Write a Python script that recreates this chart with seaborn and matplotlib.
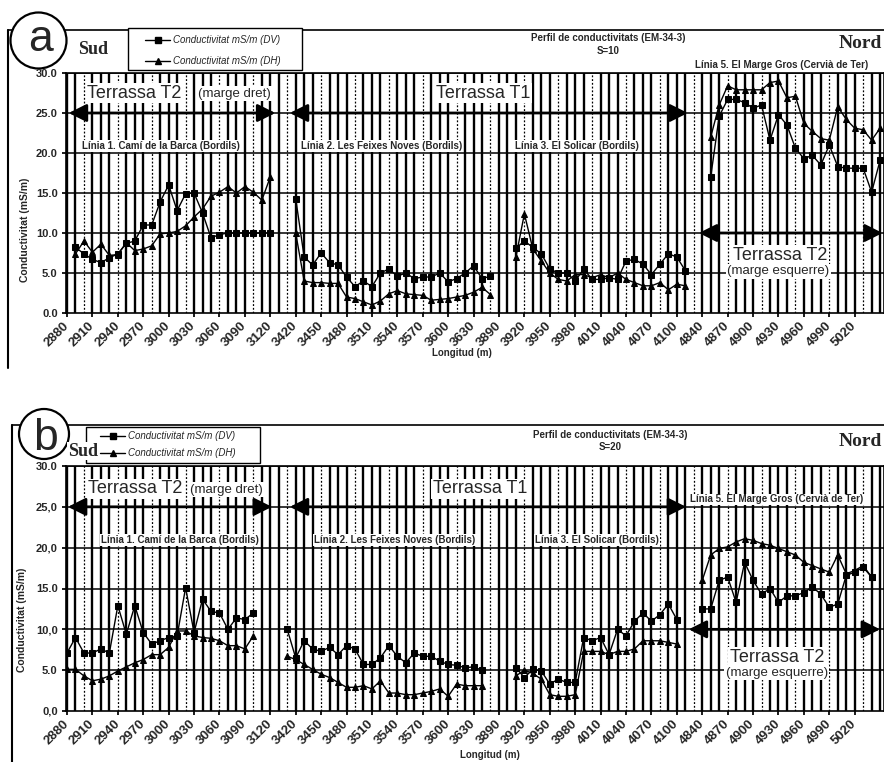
import matplotlib
matplotlib.use("Agg")
import matplotlib.pyplot as plt
import numpy as np
import pandas as pd
import seaborn as sns
from matplotlib.lines import Line2D
from matplotlib.patches import Circle, Rectangle

sns.set_theme(style="white")
plt.rcParams["font.family"] = ["Liberation Sans", "DejaVu Sans"]

# ---------------- data ----------------
x_labels = ["2880", "2910", "2940", "2970", "3000", "3030", "3060", "3090", "3120",
            "3420", "3450", "3480", "3510", "3540", "3570", "3600", "3630", "3890",
            "3920", "3950", "3980", "4010", "4040", "4070", "4100", "4840", "4870",
            "4900", "4930", "4960", "4990", "5020"]

# panel a (S=10) -- station index of first point, DV values, DH values
a_l1_start = 1
a_l1_dv = [8.2, 7.4, 6.7, 6.3, 6.9, 7.4, 8.7, 9.0, 11.0, 11.0, 13.9, 16.0, 12.8, 14.9, 15.0,
           12.5, 9.4, 9.8, 10.0, 10.0, 10.0, 10.0, 10.0, 10.0]
a_l1_dh = [7.4, 9.0, 7.6, 8.6, 7.2, 7.3, 8.8, 7.8, 8.0, 8.4, 9.9, 10.0, 10.2, 10.9, 12.0,
           13.0, 14.6, 15.1, 15.8, 15.0, 15.8, 15.1, 14.1, 17.0]
a_l2_start = 27
a_l2_dv = [14.3, 7.0, 6.0, 7.5, 6.3, 6.0, 4.5, 3.3, 4.0, 3.3, 5.0, 5.5, 4.6, 5.0, 4.3, 4.5,
           4.5, 5.0, 3.9, 4.3, 5.0, 5.9, 4.3, 4.6]
a_l2_dh = [10.0, 4.0, 3.8, 3.8, 3.7, 3.7, 2.0, 1.8, 1.4, 1.0, 1.5, 2.4, 2.8, 2.4, 2.3, 2.2,
           1.6, 1.7, 1.8, 2.0, 2.2, 2.6, 3.2, 2.3]
a_l3_start = 53
a_l3_dv = [8.1, 9.0, 8.2, 7.4, 5.5, 5.0, 5.0, 4.0, 5.5, 4.2, 4.2, 4.4, 4.2, 6.5, 6.7, 6.1,
           4.8, 6.1, 7.4, 7.0, 5.3]
a_l3_dh = [7.0, 12.4, 8.0, 6.5, 5.0, 4.2, 4.0, 4.8, 4.8, 4.4, 4.8, 4.4, 5.0, 4.2, 3.8, 3.4,
           3.4, 3.8, 2.9, 3.6, 3.4]
a_l5_start = 76
a_l5_dv = [17.0, 24.6, 26.7, 26.7, 26.3, 25.6, 26.0, 21.6, 24.8, 23.5, 20.6, 19.3, 19.7,
           18.5, 21.0, 18.3, 18.1, 18.1, 18.1, 15.1, 19.1]
a_l5_dh = [22.0, 26.0, 28.4, 27.9, 27.9, 27.9, 27.9, 28.8, 29.0, 26.9, 27.1, 23.7, 22.7,
           21.8, 21.6, 25.8, 24.2, 23.1, 22.9, 21.6, 23.1]

# panel b (S=20)
b_l1_start = 0
b_l1_dv = [7.1, 9.0, 7.1, 7.1, 7.6, 7.1, 12.9, 9.4, 12.9, 9.6, 8.2, 8.6, 9.0, 9.2, 15.1,
           9.6, 13.7, 12.2, 12.0, 10.0, 11.4, 11.2, 12.0]
b_l1_dh = [5.1, 5.1, 4.3, 3.7, 3.9, 4.3, 4.9, 5.4, 5.9, 6.3, 6.9, 6.9, 7.8, 9.8, 9.8, 9.2,
           9.0, 8.9, 8.6, 8.0, 8.0, 7.6, 9.2]
b_l2_start = 26
b_l2_dv = [10.0, 6.5, 8.6, 7.6, 7.3, 7.8, 6.9, 8.0, 7.6, 5.7, 5.7, 6.5, 8.0, 6.7, 5.9, 7.1,
           6.7, 6.7, 6.1, 5.7, 5.6, 5.3, 5.4, 5.0]
b_l2_dh = [6.7, 6.3, 5.7, 5.1, 4.5, 4.1, 3.5, 2.9, 2.9, 3.1, 2.7, 3.7, 2.2, 2.2, 2.0, 2.0,
           2.2, 2.4, 2.7, 1.8, 3.3, 3.1, 3.1, 3.1]
b_l3_start = 53
b_l3_dv = [5.3, 4.1, 5.1, 4.9, 3.3, 3.9, 3.5, 3.5, 9.0, 8.6, 9.0, 6.9, 10.0, 9.2, 11.0,
           12.0, 11.0, 11.8, 13.1, 11.2]
b_l3_dh = [4.3, 5.0, 4.6, 3.9, 2.0, 1.8, 1.8, 2.0, 7.3, 7.3, 7.3, 6.9, 7.3, 7.3, 7.6, 8.6,
           8.6, 8.6, 8.4, 8.2]
b_l5_start = 75
b_l5_dv = [12.5, 12.5, 16.0, 16.4, 13.3, 18.2, 16.0, 14.3, 15.0, 13.3, 14.1, 14.1, 14.5,
           15.2, 14.3, 12.7, 13.1, 16.6, 17.0, 17.6, 16.4]
b_l5_dh = [16.0, 19.1, 19.9, 20.1, 20.7, 21.1, 20.9, 20.5, 20.3, 19.9, 19.5, 19.1, 18.2,
           17.8, 17.4, 17.0, 19.1, 16.8, 17.2, 17.8, 16.4]

segments = [
    ("a", "L1", a_l1_start, a_l1_dv, a_l1_dh), ("a", "L2", a_l2_start, a_l2_dv, a_l2_dh),
    ("a", "L3", a_l3_start, a_l3_dv, a_l3_dh), ("a", "L5", a_l5_start, a_l5_dv, a_l5_dh),
    ("b", "L1", b_l1_start, b_l1_dv, b_l1_dh), ("b", "L2", b_l2_start, b_l2_dv, b_l2_dh),
    ("b", "L3", b_l3_start, b_l3_dv, b_l3_dh), ("b", "L5", b_l5_start, b_l5_dv, b_l5_dh),
]
rows = []
for panel, seg, start, dv, dh in segments:
    for k, v in enumerate(dv):
        rows.append(dict(panel=panel, seg=seg, station=start + k, series="DV", value=v))
    for k, v in enumerate(dh):
        rows.append(dict(panel=panel, seg=seg, station=start + k, series="DH", value=v))
df = pd.DataFrame(rows)

# ---------------- figure ----------------
W, H = 884, 762
fig = plt.figure(figsize=(W / 100, H / 100), dpi=100)
fig.patch.set_facecolor("white")

bg = fig.add_axes([0, 0, 1, 1])
bg.set_xlim(0, W)
bg.set_ylim(H, 0)
bg.axis("off")

BOLD = dict(fontweight="bold")


def make_panel(panel, top_px, bot_px, ylabels):
    ax = fig.add_axes([66 / W, (H - bot_px) / H, 818 / W, (bot_px - top_px) / H])
    ax.set_facecolor("white")
    ax.set_xlim(-0.12, 96.46)
    ax.set_ylim(0, 30)
    for i in range(97):
        if i % 4 == 2:
            ax.axvline(i, color="black", lw=0.9, ls=(0, (1.5, 1.5)), zorder=1)
        else:
            ax.axvline(i, color="black", lw=1.7, zorder=1)
    for yv in range(5, 31, 5):
        ax.axhline(yv, color="black", lw=1.1, zorder=1)
    sub = df[df.panel == panel]
    sns.lineplot(data=sub, x="station", y="value", style="series", units="seg",
                 estimator=None, markers={"DV": "s", "DH": "^"}, dashes=False,
                 color="black", markersize=4, linewidth=1.0, mec="black",
                 legend=False, sort=True, ax=ax, zorder=6)
    ax.set_xticks(range(0, 3 * len(x_labels), 3))
    ax.set_xticklabels(x_labels, rotation=45, ha="right", va="center",
                       rotation_mode="anchor", fontsize=9.5, fontweight="bold")
    ax.set_yticks(range(0, 31, 5))
    ax.set_yticklabels(ylabels, fontsize=8, fontweight="bold")
    ax.tick_params(axis="x", length=3, pad=5, color="black", direction="out", bottom=True)
    ax.tick_params(axis="y", length=3, pad=3, color="black", direction="out", left=True)
    ax.set_xlabel("")
    ax.set_ylabel("")
    for s in ax.spines.values():
        s.set_color("black")
        s.set_linewidth(1.2)
    return ax


def arrow(ax, x0, x1, y):
    ax.annotate("", xy=(x1, y), xytext=(x0, y),
                arrowprops=dict(arrowstyle="<|-|>,head_length=0.9,head_width=0.45",
                                color="black", lw=2.0, shrinkA=0, shrinkB=0,
                                mutation_scale=12), zorder=5)


def box_text(ax, x, y, s, size, ha="center", bold=False, pad=1.0):
    ax.text(x, y, s, ha=ha, va="center", fontsize=size,
            fontweight="bold" if bold else "normal", zorder=4,
            bbox=dict(boxstyle=f"square,pad={pad * 0.1}", fc="white", ec="none"))


# ---------- panel a ----------
axa = make_panel("a", 73, 313, ["0.0", "5.0", "10.0", "15.0", "20.0", "25.0", "30.0"])
arrow(axa, 0.2, 24.6, 25)
arrow(axa, 26.3, 73.3, 25)
arrow(axa, 74.6, 96.3, 10)
box_text(axa, 2.4, 27.5, "Terrassa T2", 13, ha="left")
box_text(axa, 24.0, 27.4, "(marge dret)", 9.5, ha="right")
box_text(axa, 49.1, 27.5, "Terrassa T1", 13)
box_text(axa, 84.2, 7.25, "Terrassa T2", 13)
box_text(axa, 84.0, 5.2, "(marge esquerre)", 9.5)
box_text(axa, 11.1, 20.9, "Línia 1. Camí de la Barca (Bordils)", 7, bold=True)
box_text(axa, 37.1, 20.9, "Línia 2. Les Feixes Noves (Bordils)", 7, bold=True)
box_text(axa, 60.2, 20.9, "Línia 3. El Solicar (Bordils)", 7, bold=True)

# ---------- panel b ----------
axb = make_panel("b", 466, 711, ["0,0", "5.0", "10,0", "15.0", "20,0", "25,0", "30.0"])
arrow(axb, 0.1, 24.2, 25)
arrow(axb, 26.3, 73.1, 25)
arrow(axb, 73.4, 96.0, 10)
box_text(axb, 2.5, 27.2, "Terrassa T2", 13, ha="left")
box_text(axb, 23.1, 27.1, "(marge dret)", 9.5, ha="right")
box_text(axb, 48.8, 27.2, "Terrassa T1", 13)
box_text(axb, 83.8, 6.6, "Terrassa T2", 13)
box_text(axb, 83.8, 4.7, "(marge esquerre)", 9.5)
box_text(axb, 13.3, 20.9, "Línia 1. Camí de la Barca (Bordils)", 7, bold=True)
box_text(axb, 38.7, 20.9, "Línia 2. Les Feixes Noves (Bordils)", 7, bold=True)
box_text(axb, 62.6, 20.9, "Línia 3. El Solicar (Bordils)", 7, bold=True)
box_text(axb, 73.6, 25.9, "Línia 5. El Marge Gros (Cervià de Ter)", 7, ha="left", bold=True)

# ---------- decorations (pixel coords) ----------
# panel borders
bg.plot([8, 8], [30, 368], color="black", lw=1.5)
bg.plot([8, W], [30, 30], color="black", lw=1.2)
bg.plot([12, 12], [425, H], color="black", lw=1.5)
bg.plot([12, W], [425, 425], color="black", lw=1.2)

# circled letters
for (cx, cy, r, letter, base) in [(38.5, 40.5, 28, "a", 51), (44, 434, 25, "b", 450)]:
    bg.add_patch(Circle((cx, cy), r, fc="white", ec="black", lw=1.6, zorder=5))
    bg.text(cx + 2, base, letter, ha="center", va="baseline", fontsize=32, zorder=6)

# legends
def legend(x0, y0, x1, y1, ly1, ly2, lx0, lx1, tx):
    bg.add_patch(Rectangle((x0, y0), x1 - x0, y1 - y0, fc="white", ec="black", lw=1.0, zorder=5))
    for ly, mk, lab in [(ly1, "s", "Conductivitat mS/m (DV)"), (ly2, "^", "Conductivitat mS/m (DH)")]:
        bg.plot([lx0, lx1], [ly, ly], color="black", lw=1.0, zorder=6)
        bg.plot([(lx0 + lx1) / 2], [ly], marker=mk, ms=4, color="black", zorder=6)
        bg.text(tx, ly, lab, ha="left", va="center", fontsize=7, style="italic", zorder=6)

legend(128, 28, 302, 70, 40, 61, 145, 170, 173)
legend(86, 427, 260, 463, 436, 453, 100, 125, 128)

# Sud / Nord
serif = ["Liberation Serif", "DejaVu Serif"]
sudbox = dict(boxstyle="square,pad=0.05", fc="white", ec="none")
bg.text(78, 50, "Sud", family=serif, fontsize=13, fontweight="bold", ha="left", va="center", zorder=8)
bg.text(882, 44, "Nord", family=serif, fontsize=14, fontweight="bold", ha="right", va="center")
bg.text(68, 451, "Sud", family=serif, fontsize=13, fontweight="bold", ha="left", va="center",
        zorder=8, bbox=sudbox)
bg.text(882, 442, "Nord", family=serif, fontsize=14, fontweight="bold", ha="right", va="center")

# titles
bg.text(608, 38, "Perfil de conductivitats (EM-34-3)", fontsize=7, ha="center", va="center", **BOLD)
bg.text(608, 51, "S=10", fontsize=7, ha="center", va="center", **BOLD)
bg.text(610, 435, "Perfil de conductivitats (EM-34-3)", fontsize=7, ha="center", va="center", **BOLD)
bg.text(610, 447, "S=20", fontsize=7, ha="center", va="center", **BOLD)

bg.text(782, 65, "Línia 5. El Marge Gros (Cervià de Ter)", fontsize=7, ha="center", va="center", **BOLD)

# axis titles
bg.text(25, 230, "Conductivitat (mS/m)", rotation=90, fontsize=7.5, ha="center", va="center", **BOLD)
bg.text(22, 620, "Conductivitat (mS/m)", rotation=90, fontsize=7.5, ha="center", va="center", **BOLD)
bg.text(462, 353, "Longitud (m)", fontsize=7, ha="center", va="center", **BOLD)
bg.text(490, 755, "Longitud (m)", fontsize=7, ha="center", va="center", **BOLD)

fig.savefig("out.png", dpi=100, facecolor="white")
